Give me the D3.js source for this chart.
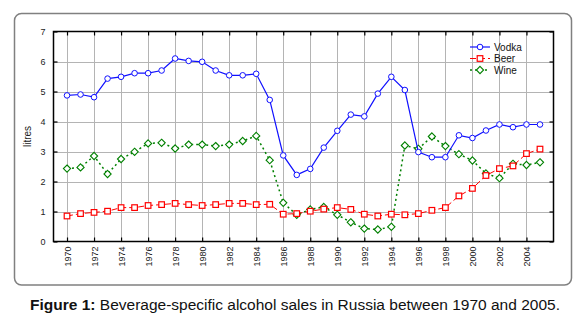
<!DOCTYPE html>
<html><head><meta charset="utf-8">
<script src="https://cdn.jsdelivr.net/npm/d3@7"></script>
<style>body{margin:0;background:#fff;}svg{display:block;font-family:"Liberation Sans",Arial,sans-serif;}</style>
</head><body>
<svg id="c" width="588" height="323"></svg>
<script>
const years = d3.range(1970, 2006);
const vodka = [4.87,4.90,4.81,5.43,5.49,5.61,5.61,5.70,6.10,6.02,5.99,5.70,5.54,5.54,5.59,4.72,2.87,2.22,2.42,3.13,3.69,4.23,4.17,4.93,5.49,5.05,2.98,2.81,2.81,3.54,3.45,3.70,3.90,3.81,3.90,3.90];
const beer = [0.85,0.93,0.97,1.01,1.13,1.13,1.20,1.23,1.27,1.23,1.20,1.23,1.27,1.27,1.23,1.24,0.91,0.93,1.01,1.08,1.13,1.07,0.91,0.85,0.91,0.89,0.93,1.04,1.13,1.52,1.77,2.20,2.43,2.52,2.93,3.08];
const wine = [2.43,2.47,2.85,2.25,2.75,2.99,3.27,3.29,3.10,3.23,3.23,3.18,3.23,3.35,3.52,2.71,1.29,0.89,1.07,1.15,0.89,0.64,0.43,0.40,0.49,3.20,3.09,3.50,3.18,2.91,2.70,2.27,2.11,2.59,2.55,2.64];
const xTicks = d3.range(1970, 2005, 2);
const yTicks = [0,1,2,3,4,5,6,7];
const seriesNames = ["Vodka","Beer","Wine"];

const svg = d3.select("#c");
const L=53.5, R=553.5, T=31.5, B=241.5;
const x = d3.scaleLinear().domain([1969,2006]).range([L,R]);
const y = d3.scaleLinear().domain([0,7]).range([B,T]);

// outer box
svg.append("rect").attr("x",14.5).attr("y",13.5).attr("width",557).attr("height",271.5)
  .attr("rx",7).attr("fill","none").attr("stroke","#808080").attr("stroke-width",1.5);

// grid
const g = svg.append("g");
g.selectAll(".vg").data(xTicks).join("line")
  .attr("x1",d=>Math.round(x(d))+0.5).attr("x2",d=>Math.round(x(d))+0.5).attr("y1",T).attr("y2",B)
  .attr("stroke","#b4b4b4").attr("stroke-width",1);
g.selectAll(".hg").data(yTicks.slice(1,-1)).join("line")
  .attr("y1",d=>Math.round(y(d))+0.5).attr("y2",d=>Math.round(y(d))+0.5).attr("x1",L).attr("x2",R)
  .attr("stroke","#b4b4b4").attr("stroke-width",1);

// axes with inward ticks
const axB = d3.axisBottom(x).tickValues(xTicks).tickSizeInner(-4).tickSizeOuter(0).tickFormat(d3.format("d"));
const axT = d3.axisTop(x).tickValues(xTicks).tickSizeInner(-4).tickSizeOuter(0).tickFormat("");
const axL = d3.axisLeft(y).tickValues(yTicks).tickSizeInner(-4).tickSizeOuter(0).tickFormat(d3.format("d"));
const axR = d3.axisRight(y).tickValues(yTicks).tickSizeInner(-4).tickSizeOuter(0).tickFormat("");

const gb = svg.append("g").attr("transform",`translate(0,${B})`).call(axB);
gb.selectAll("text").attr("transform","rotate(-90)").attr("text-anchor","end")
  .attr("x",-5).attr("y",0).attr("dy","0.35em").style("font-size","9px").attr("fill","#222");
svg.append("g").attr("transform",`translate(0,${T})`).call(axT);
const gl = svg.append("g").attr("transform",`translate(${L},0)`).call(axL);
gl.selectAll("text").attr("x",-8).style("font-size","9px").attr("fill","#222");
svg.append("g").attr("transform",`translate(${R},0)`).call(axR);
svg.selectAll(".domain").remove();
svg.selectAll(".tick line").attr("stroke","#000").attr("stroke-width",1.2);

// frame
svg.append("rect").attr("x",L).attr("y",T).attr("width",R-L).attr("height",B-T)
  .attr("fill","none").attr("stroke","#000").attr("stroke-width",1.5);

// y label
svg.append("text").attr("transform",`translate(31,${(T+B)/2}) rotate(-90)`).attr("text-anchor","middle")
  .style("font-size","10px").attr("fill","#222").text("litres");

const styles = {
  Vodka:{color:"#1010ff",dash:null,w:1.2,marker:"circle"},
  Beer:{color:"#ff0000",dash:"6,3",w:1,marker:"square"},
  Wine:{color:"#008000",dash:"2,3",w:1.5,marker:"diamond"}
};
const data = {Vodka:vodka,Beer:beer,Wine:wine};
const line = d3.line().x((d,i)=>x(years[i])).y(d=>y(d));

function marker(sel,type,color){
  if(type==="circle"){
    sel.append("circle").attr("r",2.8).attr("fill","#fff").attr("stroke",color).attr("stroke-width",1);
  } else if(type==="square"){
    sel.append("rect").attr("x",-2.8).attr("y",-2.8).attr("width",5.6).attr("height",5.6)
      .attr("fill","#fff").attr("stroke",color).attr("stroke-width",1.2);
  } else {
    sel.append("path").attr("d","M0,-3.6L3.6,0L0,3.6L-3.6,0Z").attr("fill","#fff").attr("stroke",color).attr("stroke-width",1.1);
  }
}

// draw order: wine, beer, vodka
["Wine","Beer","Vodka"].forEach(name=>{
  const s=styles[name];
  svg.append("path").datum(data[name]).attr("d",line).attr("fill","none")
    .attr("stroke",s.color).attr("stroke-width",s.w).attr("stroke-dasharray",s.dash);
  svg.append("g").selectAll("g").data(data[name]).join("g")
    .attr("transform",(d,i)=>`translate(${x(years[i])},${y(d)})`)
    .each(function(){ marker(d3.select(this),s.marker,s.color); });
});

// legend
const lg = svg.append("g");
seriesNames.forEach((name,i)=>{
  const s=styles[name]; const yy=47+i*11.5;
  lg.append("line").attr("x1",470).attr("x2",490).attr("y1",yy).attr("y2",yy)
    .attr("stroke",s.color).attr("stroke-width",s.w).attr("stroke-dasharray",s.dash);
  marker(lg.append("g").attr("transform",`translate(480,${yy})`),s.marker,s.color);
  lg.append("text").attr("x",494).attr("y",yy).attr("dy","0.35em").style("font-size","10px").attr("fill","#111").text(name);
});

// caption
const cap = svg.append("text").attr("x",295).attr("y",309.5).attr("text-anchor","middle").style("font-size","15.5px").attr("fill","#111");
cap.append("tspan").attr("font-weight","bold").text("Figure 1:");
cap.append("tspan").text(" Beverage-specific alcohol sales in Russia between 1970 and 2005.");
</script>
</body></html>
